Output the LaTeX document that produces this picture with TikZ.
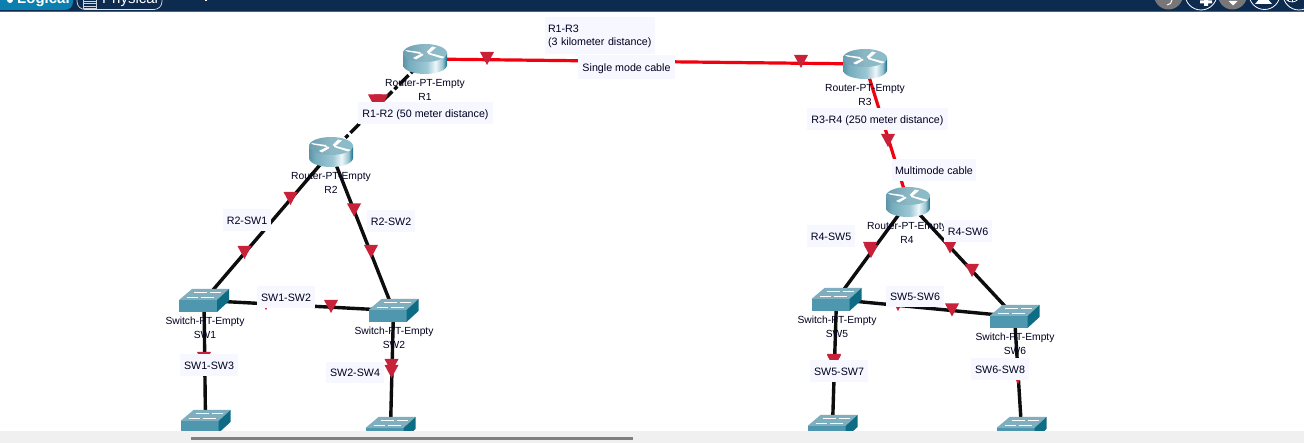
\documentclass[tikz,border=0pt]{standalone}
\usepackage{fontspec}
\setmainfont{Liberation Sans}
\definecolor{barnavy}{HTML}{0D2A4F}
\definecolor{tabblue}{HTML}{0A7FB0}
\definecolor{iconrey}{HTML}{77777A}
\definecolor{flowred}{HTML}{C8213A}
\definecolor{fibre}{HTML}{F2000F}
\definecolor{lblfill}{HTML}{F6F7FF}
\definecolor{swtop}{HTML}{7FAFBE}
\definecolor{swfront}{HTML}{4E97AE}
\definecolor{swside}{HTML}{0E6C85}
\pgfdeclarehorizontalshading{routerbody}{100bp}{rgb(0bp)=(0.36,0.58,0.65); rgb(25bp)=(0.36,0.58,0.65); rgb(32bp)=(0.46,0.68,0.74); rgb(52bp)=(0.62,0.78,0.83); rgb(62bp)=(0.93,0.97,0.98); rgb(70bp)=(0.58,0.76,0.81); rgb(75bp)=(0.06,0.42,0.52); rgb(100bp)=(0.05,0.40,0.50)}
\pgfdeclarehorizontalshading{routertop}{100bp}{rgb(0bp)=(0.42,0.62,0.69); rgb(25bp)=(0.42,0.62,0.69); rgb(50bp)=(0.55,0.72,0.77); rgb(75bp)=(0.55,0.74,0.79); rgb(100bp)=(0.55,0.74,0.79)}
\tikzset{
  x=1pt,y=-1pt,
  every node/.style={font=\fontsize{10.3pt}{12pt}\selectfont,text=black!88!blue},
  wire/.style={line width=3.4pt,draw=black!95},
  fibreline/.style={line width=3.2pt,draw=fibre},
  devlabel/.style={inner sep=0pt,align=center},
  tag/.style={fill=lblfill,inner sep=0pt,align=center,font=\fontsize{10.7pt}{12pt}\selectfont},
  onetag/.style={tag,text height=9pt,text depth=0pt},
  flowmark/.pic={\fill[flowred] (-7,-6.5) -- (7,-6.5) -- (0,6.5) -- cycle;},
  routericon/.pic={
    \shade[shading=routerbody] (-22,-6) -- (-22,6) arc[start angle=180,end angle=360,x radius=22pt,y radius=9pt] -- (22,-6) -- cycle;
    \shade[shading=routertop] (0,-6) ellipse[x radius=22pt,y radius=9pt];
    \fill[white] (-20,-9) -- (-5,-7) -- (-4,-5) -- (-18,-7.5) -- cycle;
    \fill[white] (-12,-1) -- (-3,-5.5) -- (-1.5,-4) -- (-9,0.5) -- cycle;
    \fill[white] (1.5,-7) -- (7,-12.5) -- (11,-11.5) -- (4,-5.5) -- cycle;
    \fill[white] (3,-6.5) -- (20,-2) -- (17,-0.5) -- (3,-5) -- cycle;
  },
  switchicon/.pic={
    \fill[swfront] (-25,-.5) rectangle (13,11.5);
    \fill[swtop] (-25,-.5) -- (-12,-11.5) -- (25,-11.5) -- (13,-.5) -- cycle;
    \fill[swside] (13,-.5) -- (25,-11.5) -- (25,0.5) -- (13,11.5) -- cycle;
    \draw[white,line width=.7pt] (-10,-8) -- (3,-8) (6,-8) -- (17,-8) (-17,-3.5) -- (-6,-3.5) (-3,-3.5) -- (10,-3.5);
  }
}
\begin{document}
\begin{tikzpicture}
\useasboundingbox (0,0) rectangle (1304,443);
\fill[white] (0,0) rectangle (1304,443);

% device anchors
\coordinate (R1) at (425,59);
\coordinate (R2) at (331,152);
\coordinate (R3) at (865,64);
\coordinate (R4) at (908,202);
\coordinate (SW1) at (204,300.5);
\coordinate (SW2) at (393.5,310.5);
\coordinate (SW3) at (205.5,421.5);
\coordinate (SW4) at (390.5,428.5);
\coordinate (SW5) at (836.5,299.5);
\coordinate (SW6) at (1014.5,316.5);
\coordinate (SW7) at (832.5,426.5);
\coordinate (SW8) at (1021.5,428.5);

% connectors
\draw[fibreline] (R1) -- (R3);
\draw[fibreline] (R3) -- (R4);
\draw[wire,dash pattern=on 13pt off 3pt on 4pt off 3pt] (R1) -- (R2);
\draw[wire] (R2) -- (SW1);
\draw[wire] (R2) -- (SW2);
\draw[wire] (SW1) -- (SW2);
\draw[wire] (SW1) -- (SW3);
\draw[wire] (SW2) -- (SW4);
\draw[wire] (R4) -- (SW5);
\draw[wire] (R4) -- (SW6);
\draw[wire] (SW5) -- (SW6);
\draw[wire] (SW5) -- (SW7);
\draw[wire] (SW6) -- (SW8);

% flow marks
\foreach \mx/\my in {487/58.5,801/61.5,375/101,381/101,290.5/198.5,244.5/252.5,354/210,371/251.5,
  266/303.5,331/306.5,204/358.5,391.5/365.5,391.5/371.5,870/248.5,871/251.5,950/247,972/270.5,
  898/304.5,952/310,834/360.5,834/361.5,1018/377.5,888/140.5}
  \pic at (\mx,\my) {flowmark};

% devices
\foreach \dev in {R1,R2,R3,R4} \pic at (\dev) {routericon};
\foreach \dev in {SW1,SW2,SW3,SW4,SW5,SW6,SW7,SW8} \pic at (\dev) {switchicon};

% device captions
\node[devlabel] (capR1) at (425,90) {Router-PT-Empty\\[2pt]R1};
\node[devlabel] (capR2) at (331,183) {Router-PT-Empty\\[2pt]R2};
\node[devlabel] (capR3) at (865,95) {Router-PT-Empty\\[2pt]R3};
\node[devlabel] (capR4) at (907,233) {Router-PT-Empty\\[2pt]R4};
\node[devlabel] (capSW1) at (205,328) {Switch-PT-Empty\\[2pt]SW1};
\node[devlabel] (capSW2) at (394,338) {Switch-PT-Empty\\[2pt]SW2};
\node[devlabel] (capSW5) at (837,327) {Switch-PT-Empty\\[2pt]SW5};
\node[devlabel] (capSW6) at (1015,344) {Switch-PT-Empty\\[2pt]SW6};

% link tags
\node[tag,minimum width=110pt,minimum height=37pt,align=left,text width=104pt] (tagR1R3) at (600,36) {R1-R3\\[1pt](3 kilometer distance)};
\node[onetag,minimum width=97pt,minimum height=24pt] (tagSingle) at (626.5,67) {Single mode cable};
\node[onetag,minimum width=135pt,minimum height=22pt] (tagR1R2) at (425.5,113) {R1-R2 (50 meter distance)};
\node[onetag,minimum width=141pt,minimum height=22pt] (tagR3R4) at (877.5,119) {R3-R4 (250 meter distance)};
\node[onetag,minimum width=84pt,minimum height=22pt] (tagMulti) at (934,170) {Multimode cable};
\node[onetag,minimum width=48pt,minimum height=22pt] (tagR2SW1) at (247,220) {R2-SW1};
\node[onetag,minimum width=48pt,minimum height=22pt] (tagR2SW2) at (391,221) {R2-SW2};
\node[onetag,minimum width=58pt,minimum height=22pt] (tagSW1SW2) at (286,297) {SW1-SW2};
\node[onetag,minimum width=58pt,minimum height=22pt] (tagSW1SW3) at (209,365) {SW1-SW3};
\node[onetag,minimum width=58pt,minimum height=21pt] (tagSW2SW4) at (355,372.5) {SW2-SW4};
\node[onetag,minimum width=48pt,minimum height=22pt] (tagR4SW5) at (831,236) {R4-SW5};
\node[onetag,minimum width=48pt,minimum height=22pt] (tagR4SW6) at (968,231) {R4-SW6};
\node[onetag,minimum width=58pt,minimum height=21pt] (tagSW5SW6) at (915,296.5) {SW5-SW6};
\node[onetag,minimum width=58pt,minimum height=22pt] (tagSW5SW7) at (839,371) {SW5-SW7};
\node[onetag,minimum width=58pt,minimum height=22pt] (tagSW6SW8) at (1000,369) {SW6-SW8};

% bottom scroll bar
\fill[black!6] (0,431) rectangle (1304,443);
\fill[black!50] (191,437) rectangle (633,439.5);

% top tool bar
\begin{scope}
\clip (0,0) rectangle (1304,11);
\fill[barnavy] (0,0) rectangle (1304,11);
\fill[tabblue,rounded corners=8pt] (-10,-14) rectangle (73,10);
\draw[white!85!barnavy,line width=.7pt,rounded corners=8pt] (77,-14) rectangle (162,9.5);
\draw[white!80!barnavy,line width=.8pt] (84,1) -- (96,1) (84,3.5) -- (96,3.5) (84,6) -- (96,6) (83.5,-2) rectangle (96.5,8);
\fill[white] (10,0) circle (3pt);
\node[text=white,font=\fontsize{15pt}{16pt}\selectfont\bfseries,anchor=base west,inner sep=0pt] (tabLogical) at (17,3.5) {Logical};
\node[text=white,font=\fontsize{15pt}{16pt}\selectfont,anchor=base west,inner sep=0pt] (tabPhysical) at (102,3.5) {Physical};
\fill[white] (204.5,-1) rectangle (206.5,1.5);
\fill[iconrey] (1168.5,-5) circle (14.5pt);
\draw[white,line width=1pt] (1172,0) arc[start angle=0,end angle=-90,radius=5pt];
\draw[white,line width=.8pt] (1201,-6) circle (16pt);
\fill[white] (1204,-1) rectangle (1208,6) (1200,0.5) rectangle (1212,3.5);
\fill[iconrey] (1232.5,-5) circle (14.5pt);
\fill[white] (1228.5,1) -- (1237.5,1) -- (1233,5.5) -- cycle;
\draw[white,line width=.8pt] (1264.5,-6) circle (15.5pt);
\fill[white] (1255,4) -- (1272,4) -- (1266,-3) -- (1261,-3) -- cycle;
\draw[white,line width=.8pt] (1299,-6) circle (16pt);
\draw[white,line width=.7pt] (1292,-6) circle (8pt);
\draw[white,line width=.7pt] (1292,-3) -- (1292,2) (1288,-3) -- (1288,1) (1296,-3) -- (1296,1);
\end{scope}
\fill[black!35!barnavy!70] (0,11) rectangle (1304,11.8);
\end{tikzpicture}
\end{document}
